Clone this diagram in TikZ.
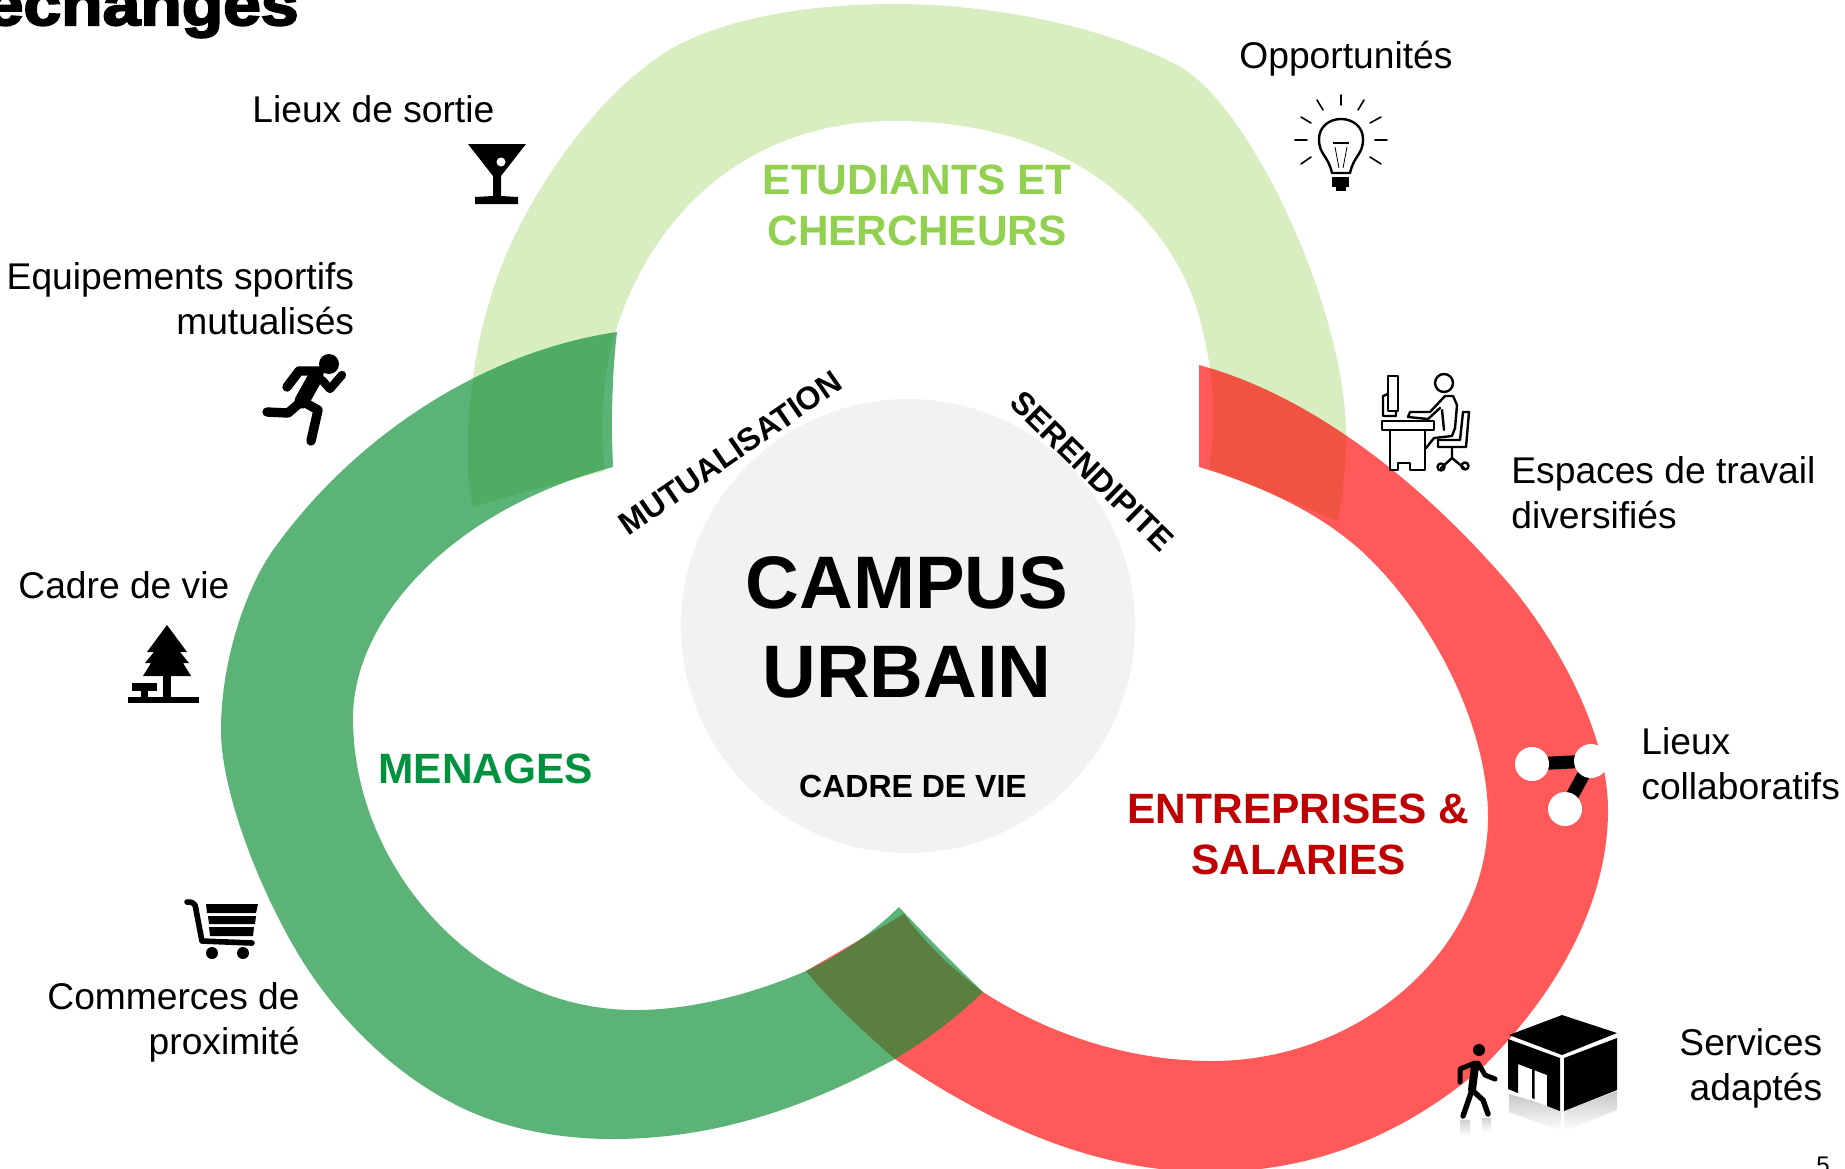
\documentclass[tikz,border=0pt]{standalone}
\usepackage{fontspec}
\setmainfont{Liberation Sans}
\newfontfamily\blk[FakeBold=3.5,FakeStretch=1.13,UprightFont=* Bold]{Liberation Sans}
\definecolor{lightband}{RGB}{216,238,192}
\definecolor{greenband}{RGB}{14,143,54}
\definecolor{disc}{RGB}{242,242,242}
\definecolor{etud}{RGB}{146,208,80}
\definecolor{menag}{RGB}{0,146,63}
\definecolor{entre}{RGB}{192,0,0}
\tikzset{
  x=0.5pt,y=-0.5pt,
  lbl/.style={inner sep=0,font=\fontsize{18.6}{22.4}\selectfont},
  group/.style={inner sep=0,font=\fontsize{21.2}{25.5}\bfseries\selectfont,align=center,anchor=base},
  small/.style={inner sep=0,font=\fontsize{16}{19}\bfseries\selectfont},
  big/.style={inner sep=0,font=\fontsize{37.2}{44.5}\bfseries\selectfont,align=center,anchor=base},
  ink/.style={line cap=round,line join=round,draw=black},
}
\begin{document}
\begin{tikzpicture}
\useasboundingbox (0,0) rectangle (1845,1168);
\clip (0,0) rectangle (1845,1168);
% light band
\fill[lightband] (473,507) .. controls (467,480) and (467,455) .. (468,430)
 .. controls (472,350) and (490,285) .. (518,229)
 .. controls (553,160) and (610,85) .. (671,49)
 .. controls (730,15) and (820,4) .. (894,4)
 .. controls (990,4) and (1100,25) .. (1177,65)
 .. controls (1250,103) and (1346,310) .. (1346,435)
 .. controls (1346,465) and (1343,495) .. (1338,521)
 -- (1209,468)
 .. controls (1216,430) and (1216,380) .. (1200,320)
 .. controls (1180,240) and (1095,121) .. (894,121)
 .. controls (760,121) and (660,200) .. (618,324)
 .. controls (605,360) and (598,420) .. (605,471)
 .. controls (560,482) and (515,495) .. (473,507) -- cycle;
% disc
\fill[disc] (908,626) circle (227);
% red band
\fill[red,fill opacity=.65] (1199,365)
 .. controls (1310,395) and (1420,480) .. (1510,585)
 .. controls (1560,645) and (1608,735) .. (1608,810)
 .. controls (1608,900) and (1560,990) .. (1483,1067)
 .. controls (1410,1130) and (1320,1172) .. (1210,1172)
 .. controls (1090,1172) and (985,1120) .. (895,1059)
 .. controls (862,1030) and (832,1003) .. (806,971)
 -- (904,914)
 .. controls (930,950) and (955,970) .. (983,992)
 .. controls (1050,1035) and (1130,1061) .. (1212,1061)
 .. controls (1360,1061) and (1488,950) .. (1488,817)
 .. controls (1488,725) and (1432,621) .. (1371,560)
 .. controls (1325,514) and (1260,485) .. (1199,467) -- cycle;
% green band
\fill[greenband,fill opacity=.68] (617,332)
 .. controls (480,352) and (350,440) .. (271,553)
 .. controls (246,590) and (221,660) .. (221,730)
 .. controls (221,800) and (270,915) .. (313,977)
 .. controls (355,1037) and (410,1085) .. (471,1112)
 .. controls (515,1131) and (565,1139) .. (612,1139)
 .. controls (720,1139) and (810,1105) .. (895,1059)
 .. controls (930,1038) and (958,1016) .. (983,992)
 .. controls (955,965) and (925,935) .. (899,907)
 .. controls (870,935) and (840,955) .. (806,971)
 .. controls (750,995) and (690,1010) .. (635,1010)
 .. controls (480,1010) and (353,870) .. (353,718)
 .. controls (353,620) and (450,510) .. (613,467)
 .. controls (611,420) and (612,375) .. (617,332) -- cycle;
% title and page number
\node[inner sep=0,anchor=base east,font=\fontsize{30}{36}\blk\selectfont] (title) at (299,25) {échanges};
\node[inner sep=0,anchor=base,font=\fontsize{12}{14}\selectfont] (page) at (1823,1173) {5};
% central texts
\node[big] (campus) at (907,697) {CAMPUS\\URBAIN};
\node[small,anchor=base] (cadre) at (913,797) {CADRE DE VIE};
\node[small,rotate=34.5] (mutu) at (730,453) {MUTUALISATION};
\node[small,rotate=-44.5] (seren) at (1092,471) {SERENDIPITE};
\node[group,text=etud] (etudiants) at (917,245) {ETUDIANTS ET\\CHERCHEURS};
\node[group,text=menag,anchor=base west] (menages) at (378,783) {MENAGES};
\node[group,text=entre] (entreprises) at (1298.5,874) {ENTREPRISES \&\\SALARIES};
% labels
\node[lbl,anchor=base west] (sortie) at (252,122) {Lieux de sortie};
\node[lbl,anchor=base east,align=right] (sport) at (354.5,334) {Equipements sportifs\\mutualisés};
\node[lbl,anchor=base west] (vie) at (18,598) {Cadre de vie};
\node[lbl,anchor=base east,align=right] (comm) at (300,1054) {Commerces de\\proximité};
\node[lbl,anchor=base west] (oppo) at (1239,68) {Opportunités};
\node[lbl,anchor=base west,align=left] (espa) at (1511,528) {Espaces de travail\\diversifiés};
\node[lbl,anchor=base west,align=left] (coll) at (1641,799) {Lieux\\collaboratifs};
\node[lbl,anchor=base east,align=right] (serv) at (1822.5,1100) {Services\\adaptés};
% martini
\fill (468,144) -- (526,144) -- (501,176) -- (501,196) -- (518,197) -- (518,204) -- (475,204) -- (475,197) -- (493,196) -- (493,176) -- cycle;
\fill[white] (501,162) circle (4.5);
% runner
\fill (329,364) circle (10);
\draw[ink,line width=4.7pt] (287,387) -- (299,371) -- (320,371);
\draw[ink,line width=4.2pt] (322,380) -- (330,389) -- (342,375);
\draw[ink,line width=7.5pt] (316,376) -- (302,401);
\draw[ink,line width=4.7pt] (302,401) -- (288,413) -- (267,412);
\draw[ink,line width=4.7pt] (302,401) -- (318,410) -- (311,441);
% tree
\fill (167,625) -- (187,652) -- (180,652) -- (189,663) -- (183,663) -- (191,676) -- (143,676) -- (151,663) -- (145,663) -- (154,652) -- (147,652) -- cycle;
\fill (163,676) rectangle (171,698);
\fill (128,697) rectangle (199,703);
\fill (132,683) rectangle (157,691);
\fill (141,691) rectangle (148,698);
% cart
\draw[ink,line width=2.8pt] (187,902) .. controls (197,902) and (195,906) .. (197,915) -- (202,941) -- (252,943);
\fill (206,904) -- (258,904) -- (256,913) -- (207,913) -- cycle;
\fill (208,916) -- (256,916) -- (255,924) -- (209,924) -- cycle;
\fill (209,927) -- (254,927) -- (253,936) -- (210,936) -- cycle;
\fill (212,953) circle (6);
\fill (243,953) circle (6);
% bulb
\draw[line width=1.2pt,line join=round] (1332,173) .. controls (1328,155) and (1319,155) .. (1319,139) .. controls (1319,127) and (1329,119) .. (1341,119) .. controls (1353,119) and (1363,127) .. (1363,139) .. controls (1363,155) and (1354,155) .. (1350,173) -- cycle;
\fill (1332,177) rectangle (1349,187);
\fill (1336,187) rectangle (1346,191);
\draw[line width=.4pt] (1335,147) -- (1339,168) (1347,147) -- (1343,168);
\draw[line width=.9pt] (1333,143) -- (1349,143);
\draw[line width=.8pt,line cap=round] (1341,95) -- (1341,105) (1317,100) -- (1323,110) (1364,100) -- (1358,110) (1301,117) -- (1311,123) (1381,117) -- (1370,123) (1295,140) -- (1307,140) (1375,140) -- (1387,140) (1301,164) -- (1311,157) (1370,157) -- (1381,164);
% desk worker
\begin{scope}[line width=1.2pt,line join=round,line cap=round]
\draw (1388,376) rectangle (1398,411);
\draw (1388,394) -- (1383,396) -- (1383,416) -- (1396,416) -- (1396,411);
\draw (1382,421) rectangle (1434,430);
\draw (1390,430) -- (1390,470) -- (1398,470) -- (1398,463) -- (1410,463) -- (1410,470) -- (1425,470) -- (1425,430);
\draw (1444,383) circle (9);
\draw (1445,396) -- (1453,396) -- (1457,405) -- (1455,428) -- (1452,436) -- (1434,438) -- (1426,448);
\draw (1445,396) -- (1430,412) -- (1410,412) -- (1408,417) -- (1428,419) -- (1440,408);
\draw (1442,410) -- (1444,430);
\draw (1463,412) -- (1469,412) -- (1466,447) -- (1438,447) -- (1438,440);
\draw (1438,440) -- (1460,440) -- (1463,412);
\draw (1452,447) -- (1452,458) -- (1441,468) (1452,458) -- (1464,468);
\draw (1441,467) circle (3.5) (1465,466) circle (3.5);
\end{scope}
% collaboration
\draw[line width=6.5pt] (1532,764) -- (1591,761) -- (1565,809);
\fill[white] (1532,764) circle (17) (1591,761) circle (17) (1565,809) circle (17);
% walker and building
\fill (1479,1050) circle (6);
\draw[ink,line width=4pt] (1475,1066) -- (1472,1090);
\draw[ink,line width=2.5pt] (1475,1063) -- (1460,1069) -- (1460,1082);
\draw[ink,line width=2.5pt] (1478,1063) -- (1485,1075) -- (1495,1079);
\draw[ink,line width=2.7pt] (1472,1090) -- (1463,1116);
\draw[ink,line width=2.7pt] (1472,1090) -- (1483,1100) -- (1488,1114);
\shade[top color=black!18,bottom color=white] (1460,1120) rectangle (1470,1136);
\shade[top color=black!18,bottom color=white] (1482,1118) rectangle (1491,1132);
\shade[top color=black!22,bottom color=white] (1564,1111) -- (1617,1091) -- (1617,1110) -- (1564,1131) -- cycle;
\shade[top color=black!22,bottom color=white] (1509,1094) -- (1530,1100) -- (1561,1111) -- (1561,1131) -- (1509,1112) -- cycle;
\fill (1562,1015) -- (1617,1033) -- (1562,1055) -- (1509,1035) -- cycle;
\fill (1564,1058) -- (1617,1038) -- (1617,1090) -- (1564,1111) -- cycle;
\fill (1508,1039) -- (1560,1058) -- (1560,1111) -- (1547,1106) -- (1547,1075) -- (1518,1064) -- (1518,1093) -- (1508,1089) -- cycle;
\fill (1532,1069) -- (1534.5,1070) -- (1534.5,1099) -- (1532,1098) -- cycle;
\end{tikzpicture}
\end{document}
